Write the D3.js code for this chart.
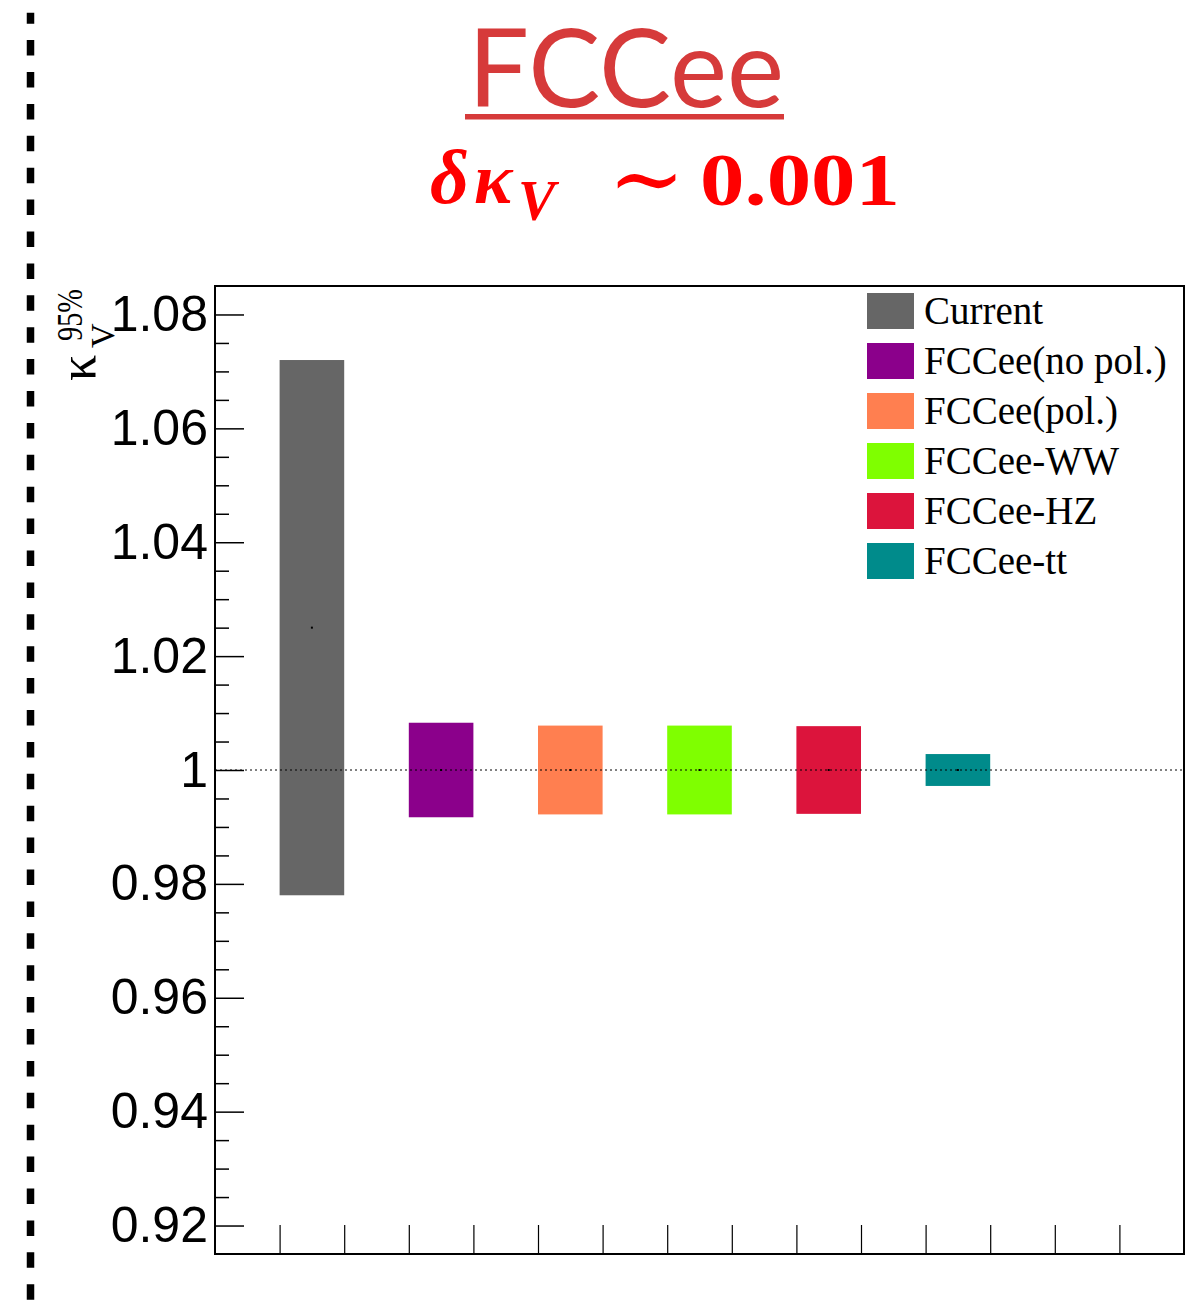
<!DOCTYPE html>
<html>
<head>
<meta charset="utf-8">
<script src="https://cdn.jsdelivr.net/npm/d3@7"></script>
<style>
  html, body { margin: 0; padding: 0; background: #fff; }
  svg { display: block; }
</style>
</head>
<body>
<div id="chart"></div>
<script>
// κ_V 95% CL intervals: current constraint and FCC-ee projections
const categories = ["Current", "FCCee(no pol.)", "FCCee(pol.)", "FCCee-WW", "FCCee-HZ", "FCCee-tt"];
const centralValues = [1.025, 1.0, 1.0, 1.0, 1.0, 1.0];
const lowerValues = [0.978, 0.9917, 0.9922, 0.9922, 0.9923, 0.9972];
const upperValues = [1.072, 1.0083, 1.0078, 1.0078, 1.0077, 1.0028];
const colors = ["#666666", "#8b008b", "#ff7f50", "#7fff00", "#dc143c", "#008b8b"];
const yTickValues = [0.92, 0.94, 0.96, 0.98, 1.00, 1.02, 1.04, 1.06, 1.08];
const yTickLabels = ["0.92", "0.94", "0.96", "0.98", "1", "1.02", "1.04", "1.06", "1.08"];
const nBins = 15;

const W = 1200, H = 1302;
const frame = { left: 215, top: 286, right: 1184, bottom: 1254 };

const svg = d3.select("#chart").append("svg")
  .attr("width", W).attr("height", H);

const x = d3.scaleLinear().domain([0, nBins]).range([frame.left, frame.right]);
const y = d3.scaleLinear().domain([0.915, 1.085]).range([frame.bottom, frame.top]);

// dashed separator along the left edge
svg.append("line")
  .attr("x1", 30.5).attr("x2", 30.5)
  .attr("y1", 12.7).attr("y2", H)
  .attr("stroke", "#000").attr("stroke-width", 7.5)
  .attr("stroke-dasharray", "15.5 16.4")
  .attr("stroke-dashoffset", 4.5);

// Title
const titleColor = "#d63a3a";
svg.append("text")
  .attr("x", 626).attr("y", 107)
  .attr("text-anchor", "middle")
  .attr("font-family", "Lato, 'Open Sans', sans-serif")
  .attr("font-size", 108)
  .attr("fill", titleColor)
  .text("FCCee");
svg.append("rect")
  .attr("x", 465).attr("y", 114).attr("width", 319).attr("height", 5.5)
  .attr("fill", titleColor);

// subtitle: δκ_V ~ 0.001
const serif = "'Liberation Serif', 'Times New Roman', serif";
const sub = svg.append("g").attr("fill", "#ff0000");
sub.append("text")
  .attr("x", 430).attr("y", 203)
  .attr("font-family", serif)
  .attr("font-weight", "bold").attr("font-style", "italic")
  .attr("font-size", 76)
  .text("δ");
sub.append("text")
  .attr("x", 474).attr("y", 203)
  .attr("font-family", serif)
  .attr("font-weight", "bold").attr("font-style", "italic")
  .attr("font-size", 72)
  .text("κ");
sub.append("text")
  .attr("x", 518).attr("y", 220)
  .attr("font-family", serif)
  .attr("font-weight", "bold").attr("font-style", "italic")
  .attr("font-size", 56)
  .text("V");
sub.append("text")
  .attr("x", 608).attr("y", 210)
  .attr("font-family", "'DejaVu Serif', serif")
  .attr("font-size", 92)
  .text("∼");
sub.append("text")
  .attr("x", 700).attr("y", 205)
  .attr("font-family", serif)
  .attr("font-weight", "bold")
  .attr("font-size", 74)
  .attr("textLength", 200)
  .attr("lengthAdjust", "spacingAndGlyphs")
  .text("0.001");

// Bars
const plot = svg.append("g");
const rows = categories.map((c, i) => ({
  name: c, slot: 2 * i + 1,
  center: centralValues[i], lo: lowerValues[i], hi: upperValues[i], color: colors[i]
}));

plot.selectAll("rect.bar").data(rows).join("rect")
  .attr("class", "bar")
  .attr("x", d => x(d.slot))
  .attr("width", d => x(d.slot + 1) - x(d.slot))
  .attr("y", d => y(d.hi))
  .attr("height", d => y(d.lo) - y(d.hi))
  .attr("fill", d => d.color);

// reference line at κ_V = 1
plot.append("line")
  .attr("x1", frame.left).attr("x2", frame.right)
  .attr("y1", y(1)).attr("y2", y(1))
  .attr("stroke", "#000").attr("stroke-width", 1)
  .attr("stroke-dasharray", "2 3");

// central-value markers
plot.selectAll("rect.marker").data(rows).join("rect")
  .attr("class", "marker")
  .attr("x", d => (x(d.slot) + x(d.slot + 1)) / 2 - 1)
  .attr("y", d => y(d.center) - 1)
  .attr("width", 2).attr("height", 2)
  .attr("fill", "#000");

// Y axis: major ticks with labels, minor ticks every 0.005
const yAxis = d3.axisLeft(y)
  .tickValues(yTickValues)
  .tickFormat((d, i) => yTickLabels[i])
  .tickSizeInner(-29).tickSizeOuter(0).tickPadding(7);
const gy = svg.append("g").attr("transform", `translate(${frame.left},0)`).call(yAxis);
gy.select(".domain").remove();
gy.selectAll("line").attr("stroke", "#000").attr("stroke-width", 1.5);
gy.selectAll("text")
  .attr("font-family", "'Liberation Sans', Arial, sans-serif")
  .attr("font-size", 50).attr("fill", "#000");

const minorVals = d3.range(0, 35).map(k => 0.915 + 0.005 * k)
  .filter(v => v > 0.9151 && v < 1.0849)
  .filter(v => !yTickValues.some(t => Math.abs(t - v) < 1e-6));
const yMinor = d3.axisLeft(y).tickValues(minorVals).tickFormat("")
  .tickSizeInner(-14).tickSizeOuter(0);
const gym = svg.append("g").attr("transform", `translate(${frame.left},0)`).call(yMinor);
gym.select(".domain").remove();
gym.selectAll("line").attr("stroke", "#000").attr("stroke-width", 1.5);

// X axis: bin edges only
const xAxis = d3.axisBottom(x).tickValues(d3.range(1, nBins)).tickFormat("")
  .tickSizeInner(-29).tickSizeOuter(0);
const gx = svg.append("g").attr("transform", `translate(0,${frame.bottom})`).call(xAxis);
gx.select(".domain").remove();
gx.selectAll("line").attr("stroke", "#000").attr("stroke-width", 1.2);

// frame
svg.append("rect")
  .attr("x", frame.left).attr("y", frame.top)
  .attr("width", frame.right - frame.left).attr("height", frame.bottom - frame.top)
  .attr("fill", "none").attr("stroke", "#000").attr("stroke-width", 2);

// Y axis title κ_V^{95%}
const yt = svg.append("g")
  .attr("transform", "translate(97,381) rotate(-90)")
  .attr("font-family", serif)
  .attr("fill", "#000");
yt.append("text").attr("x", 0).attr("y", -2).attr("font-size", 52).text("κ");
yt.append("text").attr("x", 33).attr("y", 17).attr("font-size", 34).text("V");
yt.append("text").attr("x", 40).attr("y", -15).attr("font-size", 36)
  .attr("textLength", 52).attr("lengthAdjust", "spacingAndGlyphs").text("95%");

// Legend
const legend = svg.append("g");
const lg = legend.selectAll("g").data(rows).join("g")
  .attr("transform", (d, i) => `translate(867,${293 + 50 * i})`);
lg.append("rect").attr("width", 47).attr("height", 36).attr("fill", d => d.color);
lg.append("text")
  .attr("x", 57).attr("y", 31)
  .attr("font-family", serif)
  .attr("font-size", 39).attr("fill", "#000")
  .text(d => d.name);
</script>
</body>
</html>
